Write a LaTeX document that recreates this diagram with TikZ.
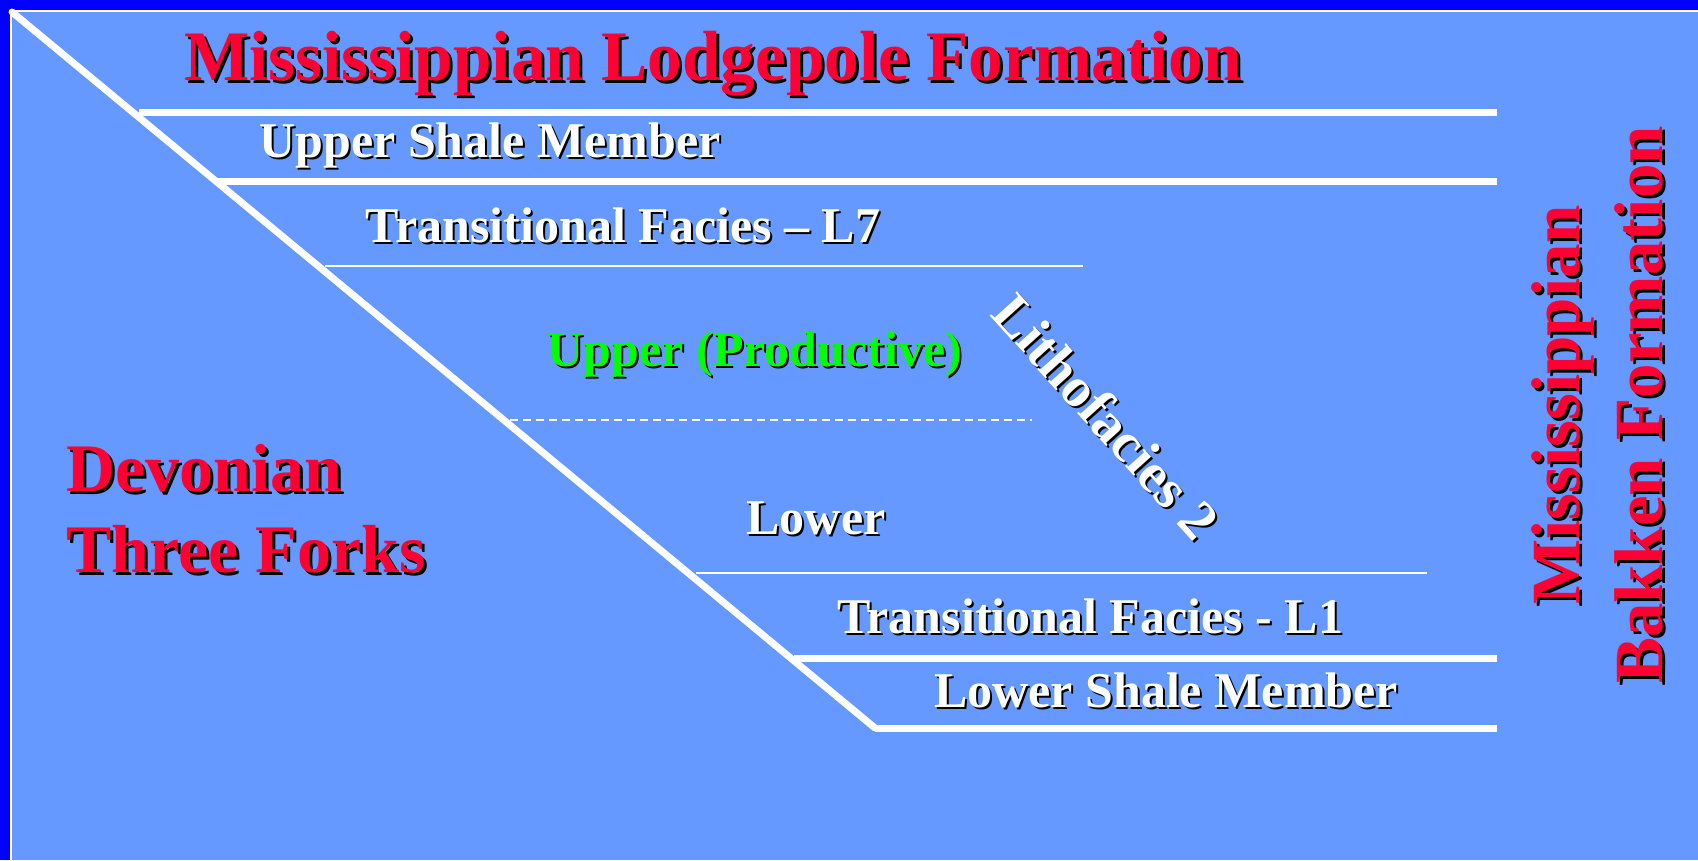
\documentclass[tikz,border=0pt]{standalone}
\usepackage{fontspec}
\setmainfont{Liberation Serif}
\usetikzlibrary{calc}
\definecolor{bgblue}{RGB}{102,153,255}
\definecolor{frameblue}{RGB}{0,0,255}
\definecolor{titlered}{RGB}{255,0,51}
\definecolor{prodgreen}{RGB}{0,255,0}
\newcommand\shlabel[5]{% name, position, options, text, shadow offset
  \node[#3, text=black] (#1-sh) at ($(#2)+(#5,#5)$) {#4};
  \node[#3] (#1) at (#2) {#4};}
\tikzset{
  lbl/.style={inner sep=0pt, font=\bfseries\fontsize{#1}{#1}\selectfont, text=white},
  lbl/.default=50,
  bigred/.style={inner sep=0pt, font=\bfseries\fontsize{#1}{#1}\selectfont, text=titlered},
  thick line/.style={draw=white, line width=7pt},
  thin line/.style={draw=white, line width=1.8pt},
  dash line/.style={draw=white, line width=1.5pt, dash pattern=on 8pt off 5pt},
}
\begin{document}
\begin{tikzpicture}[x=1pt, y=-1pt]
\useasboundingbox (0,0) rectangle (1698,860);
\fill[frameblue] (0,0) rectangle (1698,860);
\fill[white] (10,10) rectangle (1698,860);
\fill[bgblue] (12,12) rectangle (1698,860);
% diagonal
\coordinate (d0) at (12,12);
\coordinate (d1) at (875,728);
\draw[thick line, line cap=round] (d0) -- (d1);
% horizontal boundaries
\draw[thick line] (139,112) -- (1497,112);
\draw[thick line] (217,181) -- (1497,181);
\draw[thin line] (325,266) -- (1083,266);
\draw[dash line] (510,420) -- (1032,420);
\draw[thin line] (696,573) -- (1427,573);
\draw[thick line] (794,658) -- (1497,658);
\draw[thick line] (875,728) -- (1497,728);
% labels
\shlabel{title}{713,80}{bigred=71, anchor=base}{\scalebox{0.975}[1]{Mississippian Lodgepole Formation}}{3}
\shlabel{usm}{490,157}{lbl, anchor=base}{Upper Shale Member}{2}
\shlabel{tf7}{623,242}{lbl, anchor=base}{Transitional Facies – L7}{2}
\shlabel{upp}{755,366}{lbl, anchor=base, text=prodgreen}{Upper (Productive)}{2}
\shlabel{low}{816,534}{lbl, anchor=base}{Lower}{2}
\shlabel{tf1}{1090,633}{lbl, anchor=base}{Transitional Facies - L1}{2}
\shlabel{lsm}{1166,707}{lbl, anchor=base}{Lower Shale Member}{2}
\shlabel{lith}{1106,416}{lbl=56, rotate=-48}{Lithofacies 2}{2}
\shlabel{dev}{66,491}{bigred=68, anchor=base west}{Devonian}{3}
\shlabel{tfk}{66,572}{bigred=68, anchor=base west}{Three Forks}{3}
\shlabel{mis}{1579,405}{bigred=69, anchor=base, rotate=90}{Mississippian}{3}
\shlabel{bak}{1662,405}{bigred=69, anchor=base, rotate=90}{Bakken Formation}{3}
\end{tikzpicture}
\end{document}
